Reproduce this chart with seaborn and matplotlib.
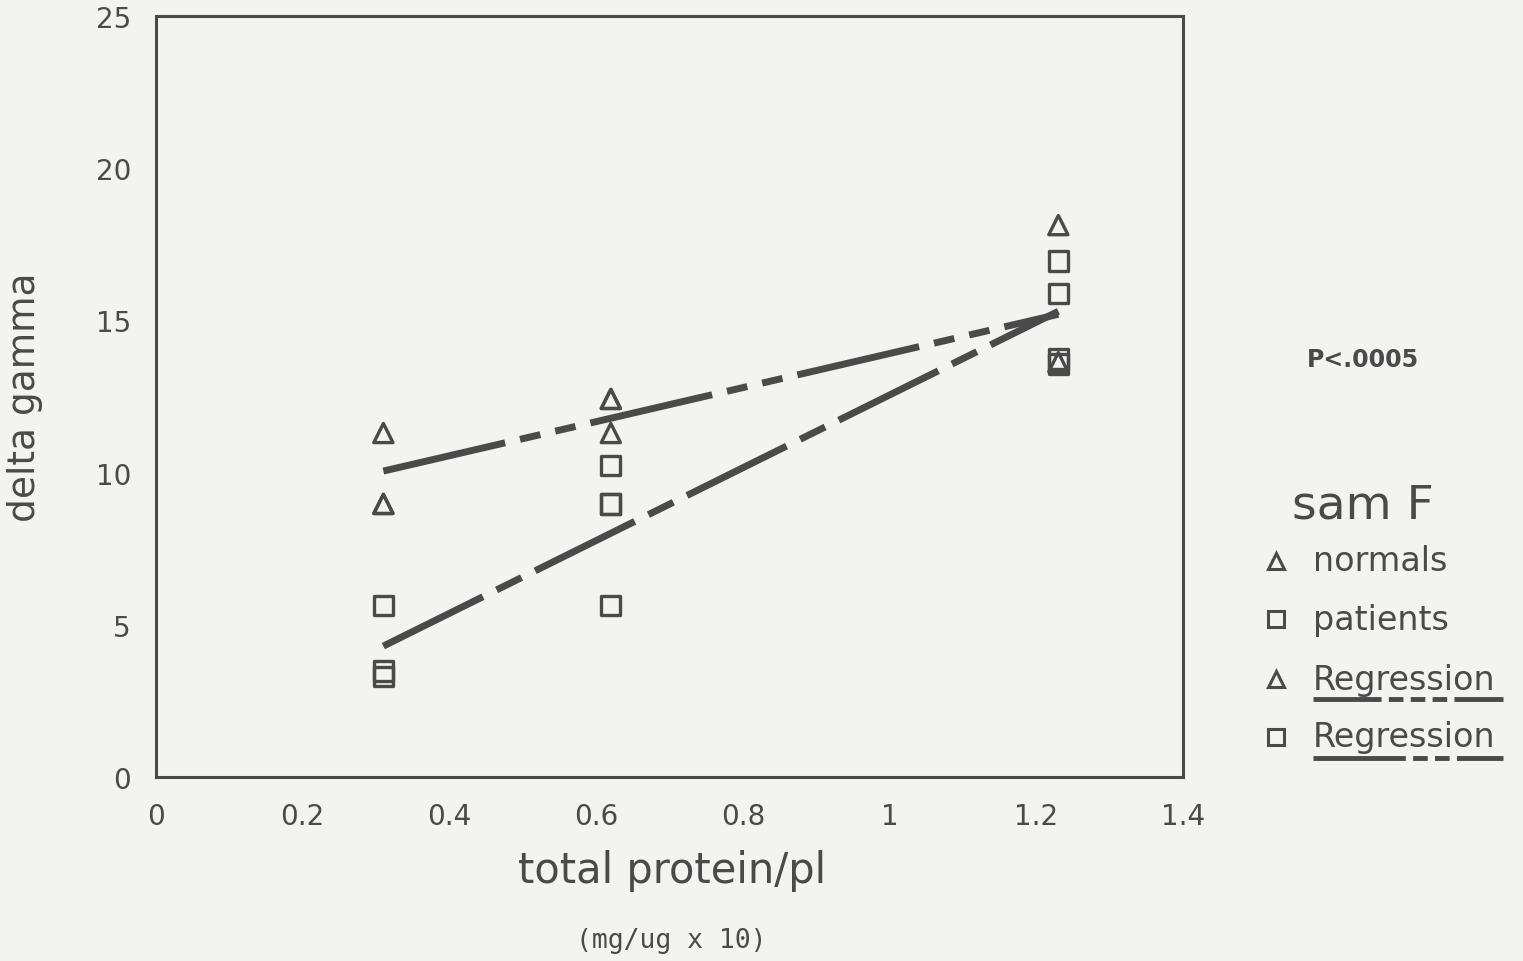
import numpy as np
import pandas as pd
import matplotlib
matplotlib.use("Agg")
import matplotlib.pyplot as plt
import seaborn as sns
from matplotlib.lines import Line2D

# ---- data ----
normals_x = [0.31, 0.31, 0.31, 0.62, 0.62, 0.62, 1.23, 1.23]
normals_y = [11.3, 8.97, 8.97, 12.42, 12.42, 11.3, 18.13, 13.63]
patients_x = [0.31, 0.31, 0.31, 0.62, 0.62, 0.62, 0.62, 1.23, 1.23, 1.23, 1.23]
patients_y = [5.62, 3.48, 3.29, 10.22, 8.97, 8.97, 5.62, 16.95, 15.87, 13.73, 13.57]
reg_x = [0.31, 1.23]
reg_normals = [10.05, 15.2]
reg_patients = [4.3, 15.3]
x_ticks = [0, 0.2, 0.4, 0.6, 0.8, 1, 1.2, 1.4]
x_tick_labels = ["0", "0.2", "0.4", "0.6", "0.8", "1", "1.2", "1.4"]
y_ticks = [0, 5, 10, 15, 20, 25]
groups = ["normals", "patients"]

ink = "#4a4a4a"
bg = "#f3f3f1"

sns.set_style("white")
plt.rcParams['font.family'] = ['DejaVu Sans']

fig = plt.figure(figsize=(15.23, 9.62), dpi=100, facecolor=bg)
ax = fig.add_axes([0.1024, 0.1913, 0.6744, 0.791])
ax.set_facecolor(bg)

df = pd.DataFrame({
    "x": normals_x + patients_x,
    "y": normals_y + patients_y,
    "group": [groups[0]] * len(normals_x) + [groups[1]] * len(patients_x),
})

sns.scatterplot(data=df, x="x", y="y", style="group", markers={"normals": "^", "patients": "s"},
                s=190, facecolor="none", edgecolor=ink, linewidth=2.4, legend=False, ax=ax)

reg_df = pd.DataFrame({"x": reg_x * 2, "y": reg_normals + reg_patients,
                       "line": ["n", "n", "p", "p"]})
sns.lineplot(data=reg_df[reg_df.line == "n"], x="x", y="y", color=ink, lw=5, ax=ax,
             legend=False).lines[-1].set_dashes([18, 2.2, 3, 2.2, 3, 2.2])
sns.lineplot(data=reg_df[reg_df.line == "p"], x="x", y="y", color=ink, lw=5, ax=ax,
             legend=False).lines[-1].set_dashes([16, 2.2, 4, 2.2])

ax.set_xlim(0, 1.4)
ax.set_ylim(0, 25)
ax.set_xticks(x_ticks)
ax.set_xticklabels(x_tick_labels)
ax.set_yticks(y_ticks)
for s in ax.spines.values():
    s.set_color(ink)
    s.set_linewidth(2.2)
ax.tick_params(axis="both", direction="out", length=12, width=1.8, color=ink,
               labelcolor=ink, labelsize=20, pad=6)
ax.set_xlabel("")
ax.set_ylabel("delta gamma", fontsize=27, color=ink, labelpad=38)

fig.text(0.441, 0.095, "total protein/pl", fontsize=30, color=ink, ha="center", va="center")
fig.text(0.441, 0.022, "(mg/ug x 10)", fontsize=19, color=ink, ha="center", va="center",
         family="DejaVu Sans Mono")

fig.text(0.895, 0.626, "P<.0005", fontsize=17, color=ink, ha="center", va="center", weight="bold")
fig.text(0.895, 0.474, "sam F", fontsize=34, color=ink, ha="center", va="center")

leg_y = [0.416, 0.355, 0.293, 0.233]
leg_marker = ["^", "s", "^", "s"]
leg_text = ["normals", "patients", "Regression", "Regression"]
for yy, m, t in zip(leg_y, leg_marker, leg_text):
    fig.add_artist(Line2D([0.8375], [yy], marker=m, markersize=12, markerfacecolor="none",
                          markeredgecolor=ink, markeredgewidth=2.2, linestyle="none"))
    fig.text(0.862, yy, t, fontsize=24, color=ink, ha="left", va="center")
u1 = Line2D([0.862, 0.987], [0.272, 0.272], color=ink, lw=3.5)
u1.set_dashes([14, 1.5, 3, 1.5, 3, 1.5, 3, 1.5])
fig.add_artist(u1)
u2 = Line2D([0.862, 0.987], [0.211, 0.211], color=ink, lw=3.5)
u2.set_dashes([19, 1.5, 3, 1.5, 3, 1.5])
fig.add_artist(u2)

fig.savefig("out.png", dpi=100, facecolor=bg)
